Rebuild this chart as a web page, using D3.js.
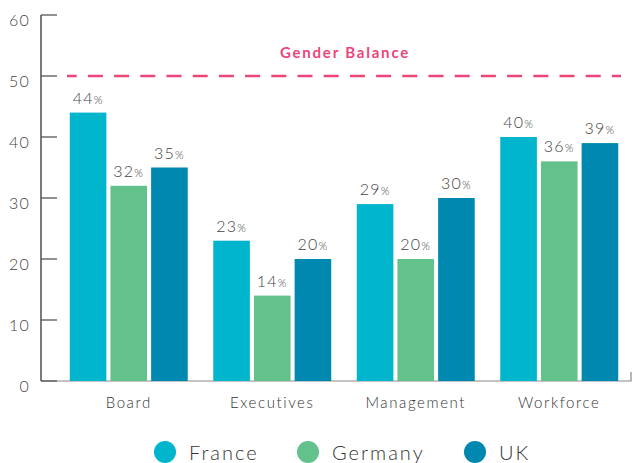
<!DOCTYPE html>
<html>
<head>
<meta charset="utf-8">
<script src="https://cdn.jsdelivr.net/npm/d3@7"></script>
<style>
  body { margin: 0; background: #fff; }
  text { font-family: Lato, "Open Sans", sans-serif; font-weight: 300; }
</style>
</head>
<body>
<svg id="chart" width="632" height="463"></svg>
<script>
const categories = ["Board", "Executives", "Management", "Workforce"];
const series = ["France", "Germany", "UK"];
const france = [44, 23, 29, 40];
const germany = [32, 14, 20, 36];
const uk = [35, 20, 30, 39];
const yTicks = [0, 10, 20, 30, 40, 50, 60];
const balanceValue = 50;
const balanceLabel = "Gender Balance";

const colors = { France: "#00b5cc", Germany: "#63c18c", UK: "#0088b1" };
const textColor = "#444";

const svg = d3.select("#chart");
const values = { France: france, Germany: germany, UK: uk };
const data = categories.map((c, i) => ({
    cat: c,
    vals: series.map(s => ({ key: s, value: values[s][i] }))
}));

const y = d3.scaleLinear().domain([0, 60]).range([381, 15]);
const x0 = d3.scaleBand().domain(categories).range([57, 631]).paddingInner(0.178).paddingOuter(0.089);
const x1 = d3.scaleBand().domain(series).range([0, x0.bandwidth()]).paddingInner(0.1);

// x axis: gray baseline with small outer tick at the right end
const xAxis = svg.append("g").attr("transform", "translate(0,381)");
xAxis.append("path")
    .attr("d", `M41 0 H631 V-9`)
    .attr("fill", "none")
    .attr("stroke", "#888")
    .attr("stroke-width", 1.2);

xAxis.selectAll(".xlabel").data(categories)
    .join("text").attr("class", "xlabel")
    .attr("x", d => x0(d) + x0.bandwidth() / 2)
    .attr("y", 27)
    .attr("text-anchor", "middle")
    .attr("font-size", 15)
    .attr("letter-spacing", 1.6)
    .attr("fill", "#333")
    .text(d => d);

// bars
const groups = svg.selectAll(".group").data(data)
    .join("g").attr("class", "group")
    .attr("transform", d => `translate(${x0(d.cat)},0)`);

groups.selectAll("rect").data(d => d.vals)
    .join("rect")
    .attr("x", d => x1(d.key))
    .attr("y", d => y(d.value))
    .attr("width", x1.bandwidth())
    .attr("height", d => y(0) - y(d.value))
    .attr("fill", d => colors[d.key]);

const lbl = groups.selectAll(".vlabel").data(d => d.vals)
    .join("text").attr("class", "vlabel")
    .attr("x", d => x1(d.key) + x1.bandwidth() / 2)
    .attr("y", d => y(d.value) - 9)
    .attr("text-anchor", "middle")
    .attr("fill", textColor)
    .attr("letter-spacing", 1.2);
lbl.append("tspan").attr("font-size", 16).text(d => d.value);
lbl.append("tspan").attr("font-size", 11).text("%");

// y axis
const yAxis = svg.append("g");
yAxis.append("line")
    .attr("x1", 41).attr("x2", 41)
    .attr("y1", y(60)).attr("y2", y(0))
    .attr("stroke", "#333").attr("stroke-width", 1.3);
yAxis.selectAll(".ytick").data(yTicks)
    .join("line").attr("class", "ytick")
    .attr("x1", 41).attr("x2", 57)
    .attr("y1", d => y(d)).attr("y2", d => y(d))
    .attr("stroke", "#555").attr("stroke-width", 1.3);
yAxis.selectAll(".ylabel").data(yTicks)
    .join("text").attr("class", "ylabel")
    .attr("x", 30)
    .attr("y", d => y(d) + 11)
    .attr("text-anchor", "end")
    .attr("font-size", 16)
    .attr("letter-spacing", 1.2)
    .attr("fill", textColor)
    .text(d => d);

// gender balance line
svg.append("line")
    .attr("x1", 67).attr("x2", 621)
    .attr("y1", y(balanceValue)).attr("y2", y(balanceValue))
    .attr("stroke", "#ec4679")
    .attr("stroke-width", 2.5)
    .attr("stroke-dasharray", "15,11.2")
    .attr("stroke-dashoffset", 5.3);
svg.append("text")
    .attr("x", 345)
    .attr("y", y(balanceValue) - 18)
    .attr("text-anchor", "middle")
    .attr("font-size", 15)
    .style("font-weight", "bold")
    .attr("letter-spacing", 1.8)
    .attr("fill", "#ec4679")
    .text(balanceLabel);

// legend
const legendX = [165, 308, 475];
const legend = svg.selectAll(".legend").data(series)
    .join("g").attr("class", "legend")
    .attr("transform", (d, i) => `translate(${legendX[i]},452)`);
legend.append("circle")
    .attr("r", 11)
    .attr("fill", d => colors[d]);
legend.append("text")
    .attr("x", 24)
    .attr("y", 8)
    .attr("font-size", 20)
    .attr("letter-spacing", 2)
    .attr("fill", "#333")
    .text(d => d);
</script>
</body>
</html>
